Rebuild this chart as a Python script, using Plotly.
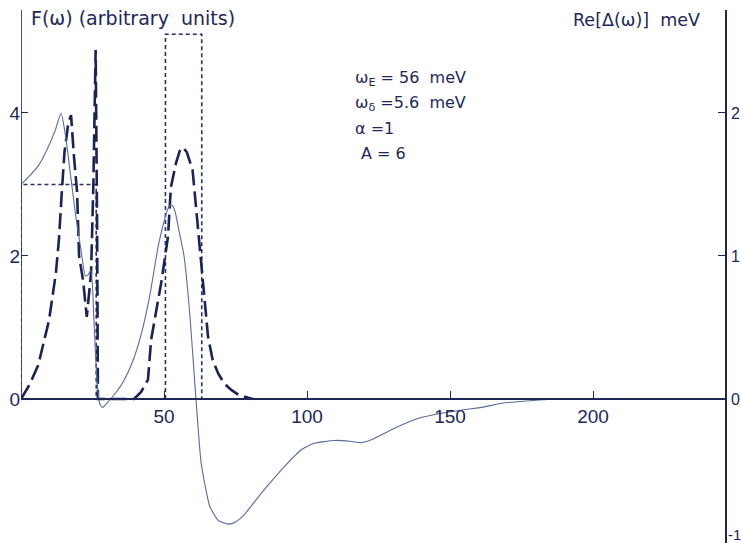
import plotly.graph_objects as go

# ---- data ----
# F(omega), long-dashed curve (arbitrary units, left axis)
f_omega = [0, 3, 6, 9.8, 12.2, 13.3, 14.2, 15.2, 16.5, 17.5, 18.5, 19.6, 20.3, 21.7, 23.0,
           24.5, 25.3, 26.1, 26.6, 26.9, 30, 35, 39.5, 42, 44.4, 45.5, 47.5, 49, 51.4, 52.4,
           54.2, 55.5, 56.6, 58, 60, 62.2, 63.6, 65.4, 67, 68.9, 71, 73.4, 76, 78.7, 81]
f_values = [0, 0.2, 0.47, 1.1, 1.76, 2.25, 2.85, 3.45, 3.85, 3.97, 3.4, 2.9, 2.0, 1.66, 1.15,
            1.76, 3.0, 4.88, 2.5, 0, 0, 0, 0, 0.1, 0.27, 0.83, 1.25, 1.62, 2.27, 2.96,
            3.3, 3.47, 3.52, 3.45, 3.2, 2.27, 1.57, 0.87, 0.55, 0.36, 0.22, 0.13, 0.06, 0.03, 0]

# Re[Delta(omega)] in meV, thin solid curve (right axis)
d_omega = [0, 3, 6, 9, 12, 14, 15.5, 17, 19, 21, 22.5, 23.5, 24.5, 25.5, 26.5, 27.5, 28.5,
           30, 33, 36, 39, 42, 45, 48, 50, 51, 52, 53, 54, 55, 57, 59, 61, 63, 66, 69, 72.5,
           75, 78, 84, 92, 98, 102.5, 109.5, 115, 119, 122.5, 129.5, 139, 147, 155, 162, 168,
           178, 190, 230]
d_values = [1.5, 1.56, 1.63, 1.74, 1.88, 2.0, 1.85, 1.62, 1.3, 1.04, 0.86, 0.87, 0.9, 0.55,
            0.15, -0.03, -0.06, -0.03, 0.04, 0.13, 0.26, 0.45, 0.72, 1.07, 1.24, 1.31, 1.355,
            1.35, 1.3, 1.2, 1.0, 0.6, 0.05, -0.45, -0.75, -0.85, -0.875, -0.86, -0.81, -0.66,
            -0.475, -0.355, -0.31, -0.29, -0.295, -0.305, -0.285, -0.215, -0.135, -0.1,
            -0.075, -0.055, -0.03, -0.012, 0, 0]

# rectangular model spectra (dotted)
box1_x = [0, 0, 26.3, 26.3]
box1_y = [0, 3, 3, 0]
box2_x = [50.5, 50.5, 63.2, 63.2]
box2_y = [0, 5.1, 5.1, 0]

x_ticks = [50, 100, 150, 200]
x_ticktext = ["50", "100", "150", "200"]
y_ticks = [0, 2, 4]
y_ticktext = ["0", "2", "4"]
y2_ticks = [-1, 0, 1, 2]
y2_ticktext = ["", "0", "1", "2"]   # "-1" is placed as a text just above the bottom edge

params = ["ω<sub>E</sub> = 56  meV", "ω<sub>δ</sub> =5.6  meV", "α =1", "A = 6"]

# ---- styling ----
INK = "#1e2757"
W, H = 741, 544
ML, MR, MT, MB = 21, 16, 10, 1
PW, PH = W - ML - MR, H - MT - MB
XMAX = PW / 2.86
YMIN, YMAX = -2.014, 5.44


def px(xp):
    return (xp - ML) / PW


def py(yp):
    return (H - MB - yp) / PH


fig = go.Figure()
for bx, by in [(box1_x, box1_y), (box2_x, box2_y)]:
    fig.add_trace(go.Scatter(x=bx, y=by, mode="lines",
                             line=dict(color="#283266", width=1.6, dash="4px,3px"),
                             showlegend=False, hoverinfo="skip"))
fig.add_trace(go.Scatter(x=f_omega, y=f_values, mode="lines",
                         line=dict(color="#1b2352", width=2.6, dash="16px,6px"),
                         showlegend=False))
fig.add_trace(go.Scatter(x=d_omega, y=d_values, mode="lines", yaxis="y2",
                         line=dict(color="#5a6a9c", width=1.1, shape="spline", smoothing=0.5),
                         showlegend=False))

tickfont = dict(family="Liberation Sans, Arial, sans-serif", size=19, color=INK)
fig.update_layout(
    width=W, height=H, margin=dict(l=ML, r=MR, t=MT, b=MB, autoexpand=False),
    paper_bgcolor="white", plot_bgcolor="white",
    xaxis=dict(range=[0, XMAX], anchor="free", position=-YMIN / (YMAX - YMIN),
               showline=True, linecolor=INK, linewidth=1.6, showgrid=False, zeroline=False,
               ticks="inside", ticklen=7, tickwidth=1.4, tickcolor=INK,
               tickvals=x_ticks, ticktext=x_ticktext, tickfont=tickfont),
    yaxis=dict(range=[YMIN, YMAX], showline=False, showgrid=False, zeroline=False,
               ticks="inside", ticklen=7, tickwidth=1.4, tickcolor=INK,
               tickvals=y_ticks, ticktext=y_ticktext, tickfont=tickfont),
    yaxis2=dict(range=[YMIN / 2, YMAX / 2], overlaying="y", side="right",
                showline=True, linecolor=INK, linewidth=1.6, showgrid=False, zeroline=False,
                ticks="inside", ticklen=7, tickwidth=1.4, tickcolor=INK,
                ticklabeloverflow="allow", ticklabelstandoff=1,
                tickvals=y2_ticks, ticktext=y2_ticktext,
                tickfont=dict(family="Liberation Sans, Arial, sans-serif", size=16, color=INK)),
)
# left axis line only above zero
fig.add_shape(type="line", xref="x", yref="y", x0=0, x1=0, y0=0, y1=YMAX,
              line=dict(color=INK, width=1.6))

txtfont = dict(family="DejaVu Sans, sans-serif", color=INK)
fig.add_annotation(xref="paper", yref="paper", x=1.0, y=py(534), xanchor="left",
                   yanchor="middle", text="-1", showarrow=False, xshift=1,
                   font=dict(family="Liberation Sans, Arial, sans-serif", size=15, color=INK))
fig.add_annotation(xref="paper", yref="paper", x=px(29), y=py(18), xanchor="left",
                   yanchor="middle", text="F(ω) (arbitrary  units)", showarrow=False,
                   font=dict(size=19, **txtfont))
fig.add_annotation(xref="paper", yref="paper", x=px(571), y=py(20), xanchor="left",
                   yanchor="middle", text="Re[Δ(ω)]  meV", showarrow=False,
                   font=dict(size=17.5, **txtfont))
for t, yy, xx in zip(params, [78, 103, 128, 154], [353, 353, 353, 359]):
    fig.add_annotation(xref="paper", yref="paper", x=px(xx), y=py(yy), xanchor="left",
                       yanchor="middle", text=t, showarrow=False,
                       font=dict(size=16, **txtfont))

fig.write_html("out.html")
